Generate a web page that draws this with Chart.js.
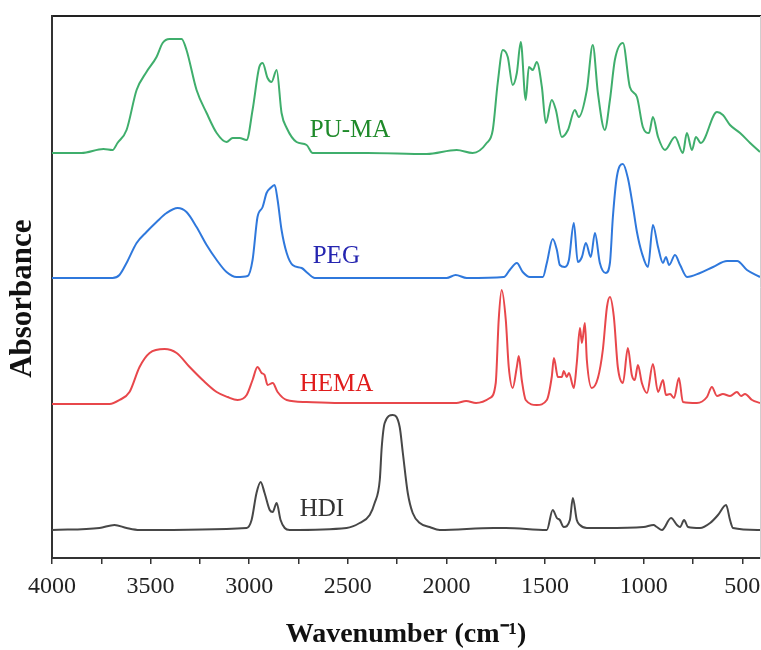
<!DOCTYPE html>
<html>
<head>
<meta charset="utf-8">
<title>FTIR spectra</title>
<script src="https://cdn.jsdelivr.net/npm/chart.js@4.4.1/dist/chart.umd.min.js"></script>
<style>
    body { margin: 0; background: #fff; }
    #wrap { width: 761px; height: 650px; position: relative; }
</style>
</head>
<body>
<div id="wrap"><canvas id="ftir"></canvas></div>
<script>
// Wavenumbers (cm-1) and stacked absorbance (arbitrary units, offset per sample)
const pumaWn = [4000, 3850, 3739, 3693, 3668, 3622, 3571, 3521, 3470, 3439, 3404, 3343, 3318, 3267, 3216, 3165, 3115, 3084, 3049, 3013, 2983, 2949, 2932, 2907, 2887, 2861, 2836, 2810, 2760, 2709, 2678, 2400, 2100, 1948, 1867, 1796, 1765, 1740, 1714, 1689, 1664, 1643, 1623, 1598, 1582, 1562, 1542, 1516, 1496, 1466, 1445, 1415, 1384, 1349, 1329, 1288, 1258, 1232, 1197, 1171, 1146, 1105, 1070, 1034, 1004, 973, 953, 927, 892, 841, 801, 781, 755, 735, 710, 628, 598, 562, 511, 460, 410];
const pumaAbs = [405, 405, 409, 408, 415, 428, 468, 486, 501, 515, 519, 519, 508, 468, 445, 425, 416, 420, 420, 418, 448, 491, 495, 480, 476, 488, 445, 430, 416, 413, 405, 405, 404, 408, 405, 415, 428, 475, 508, 501, 473, 485, 516, 458, 491, 488, 496, 471, 435, 458, 448, 421, 428, 448, 441, 468, 513, 465, 428, 458, 498, 515, 471, 461, 431, 425, 441, 421, 408, 421, 405, 425, 408, 421, 415, 446, 443, 433, 425, 415, 406];

const pegWn = [4000, 3693, 3658, 3622, 3571, 3521, 3470, 3419, 3363, 3318, 3267, 3216, 3165, 3115, 3064, 3008, 2983, 2958, 2932, 2912, 2892, 2871, 2856, 2836, 2810, 2780, 2734, 2704, 2668, 1999, 1953, 1897, 1709, 1679, 1643, 1613, 1577, 1511, 1491, 1461, 1440, 1425, 1400, 1379, 1354, 1334, 1313, 1293, 1268, 1247, 1222, 1192, 1171, 1156, 1136, 1105, 1080, 1054, 1034, 1009, 978, 953, 927, 902, 887, 871, 841, 815, 780, 714, 648, 577, 526, 476, 410];
const pegAbs = [280, 280, 283, 295, 315, 326, 336, 345, 350, 346, 331, 313, 298, 286, 281, 282, 298, 341, 351, 365, 370, 373, 358, 328, 305, 293, 290, 285, 280, 280, 283, 280, 281, 288, 295, 286, 281, 281, 295, 319, 308, 293, 291, 298, 335, 296, 301, 315, 301, 325, 295, 285, 295, 341, 381, 394, 380, 351, 326, 305, 291, 333, 311, 295, 301, 293, 303, 293, 281, 285, 291, 297, 297, 288, 281];

const hemaWn = [4000, 3708, 3658, 3607, 3556, 3505, 3429, 3368, 3302, 3236, 3165, 3110, 3059, 3013, 2983, 2958, 2937, 2922, 2907, 2881, 2856, 2810, 2709, 2541, 2200, 1950, 1900, 1850, 1780, 1750, 1735, 1720, 1699, 1684, 1664, 1643, 1633, 1618, 1598, 1542, 1491, 1466, 1455, 1435, 1415, 1405, 1390, 1379, 1354, 1339, 1323, 1313, 1298, 1288, 1263, 1232, 1207, 1186, 1171, 1151, 1131, 1105, 1080, 1060, 1045, 1029, 1009, 983, 953, 927, 902, 887, 866, 846, 821, 801, 730, 679, 654, 628, 598, 562, 527, 506, 486, 450, 410];
const hemaAbs = [154, 154, 158, 166, 191, 205, 209, 205, 191, 178, 166, 161, 158, 163, 178, 191, 185, 183, 173, 175, 166, 158, 156, 155, 155, 155, 157, 155, 160, 175, 238, 268, 238, 191, 170, 191, 202, 178, 158, 153, 158, 181, 200, 181, 181, 187, 181, 185, 170, 195, 230, 215, 235, 198, 170, 180, 208, 251, 261, 241, 191, 175, 210, 183, 178, 193, 175, 165, 194, 166, 178, 163, 164, 160, 180, 156, 155, 161, 171, 162, 164, 162, 166, 162, 164, 158, 155];

const hdiWn = [4000, 3759, 3683, 3622, 3556, 3013, 2988, 2963, 2942, 2922, 2896, 2881, 2861, 2841, 2820, 2795, 2506, 2440, 2389, 2364, 2338, 2328, 2313, 2272, 2237, 2221, 2196, 2171, 2135, 2085, 2034, 1760, 1700, 1491, 1461, 1440, 1425, 1405, 1374, 1359, 1339, 1323, 1288, 1200, 1000, 950, 933, 907, 861, 831, 815, 795, 775, 714, 663, 623, 582, 562, 547, 410];
const hdiAbs = [28, 30, 33, 30, 28, 30, 38, 65, 76, 65, 48, 46, 55, 38, 30, 28, 30, 35, 43, 55, 78, 111, 135, 143, 131, 105, 65, 45, 35, 31, 28, 30, 30, 28, 48, 40, 38, 31, 38, 60, 38, 33, 30, 30, 31, 33, 31, 28, 40, 33, 31, 38, 31, 30, 35, 43, 53, 38, 30, 28];

const seriesNames = ['PU-MA', 'PEG', 'HEMA', 'HDI'];
const xTickValues = [4000, 3750, 3500, 3250, 3000, 2750, 2500, 2250, 2000, 1750, 1500, 1250, 1000, 750, 500];
const xTickLabels = ['4000', '', '3500', '', '3000', '', '2500', '', '2000', '', '1500', '', '1000', '', '500'];

const lineColors = ['#3fae6c', '#2f78dc', '#e8474b', '#474747'];
const labelColors = ['#1f8a2a', '#2525b0', '#e01b1b', '#333333'];
const serif = "'Liberation Serif', 'Times New Roman', serif";

function toPoints(wn, abs) {
    const n = Math.min(wn.length, abs.length);
    const pts = [];
    for (let i = 0; i < n; i++) pts.push({ x: wn[i], y: abs[i] });
    return pts;
}

const spectra = [
    toPoints(pumaWn, pumaAbs),
    toPoints(pegWn, pegAbs),
    toPoints(hemaWn, hemaAbs),
    toPoints(hdiWn, hdiAbs)
];

// Sample names written next to each curve
const seriesLabels = {
    id: 'seriesLabels',
    afterDatasetsDraw(chart, args, opts) {
        const { ctx, scales: { x, y } } = chart;
        ctx.save();
        ctx.font = opts.font;
        ctx.textBaseline = 'middle';
        ctx.textAlign = 'left';
        opts.items.forEach((item, i) => {
            ctx.fillStyle = labelColors[i];
            ctx.fillText(seriesNames[i], x.getPixelForValue(item.x), y.getPixelForValue(item.y));
        });
        ctx.restore();
    }
};

new Chart(document.getElementById('ftir'), {
    type: 'line',
    data: {
        datasets: spectra.map((pts, i) => ({
            label: seriesNames[i],
            data: pts,
            borderColor: lineColors[i],
            borderWidth: 2,
            pointRadius: 0,
            fill: false,
            cubicInterpolationMode: 'monotone'
        }))
    },
    options: {
        responsive: true,
        maintainAspectRatio: false,
        animation: false,
        layout: { padding: 0 },
        scales: {
            x: {
                type: 'linear',
                position: 'bottom',
                reverse: true,
                min: 410,
                max: 4000,
                afterFit: (s) => {
                    s.height = 92;
                    s.paddingLeft = 0;
                    s.paddingRight = 0;
                },
                afterBuildTicks: (s) => { s.ticks = xTickValues.map(v => ({ value: v })); },
                ticks: {
                    autoSkip: false,
                    maxRotation: 0,
                    padding: 8,
                    color: '#222',
                    font: { family: serif, size: 24 },
                    callback: (v) => xTickLabels[xTickValues.indexOf(v)] ?? ''
                },
                grid: { drawOnChartArea: false, drawTicks: true, tickLength: 6, color: '#333', lineWidth: 1.5 },
                border: { display: true, color: '#333', width: 2 },
                title: {
                    display: true,
                    text: 'Wavenumber (cm\u207B\u00B9)',
                    color: '#111',
                    font: { family: serif, size: 28, weight: 'bold', lineHeight: 1 },
                    padding: { top: 0, bottom: 1 }
                }
            },
            xTop: {
                type: 'linear',
                position: 'top',
                display: true,
                afterFit: (s) => { s.height = 16; },
                ticks: { display: false },
                grid: { display: false },
                border: { display: true, color: '#222', width: 2 }
            },
            y: {
                type: 'linear',
                position: 'left',
                min: 0,
                max: 542,
                afterFit: (s) => { s.width = 52; },
                ticks: { display: false },
                grid: { display: false },
                border: { display: true, color: '#333', width: 2 },
                title: {
                    display: true,
                    text: 'Absorbance   ',
                    color: '#111',
                    font: { family: serif, size: 31, weight: 'bold', lineHeight: 1.2 },
                    padding: { top: 4, bottom: 0 }
                }
            },
            yRight: {
                type: 'linear',
                position: 'right',
                display: true,
                afterFit: (s) => { s.width = 1; },
                ticks: { display: false },
                grid: { display: false },
                border: { display: true, color: '#cfcfcf', width: 1 }
            }
        },
        plugins: {
            legend: { display: false },
            tooltip: { enabled: false },
            seriesLabels: {
                font: '25px ' + serif,
                items: [
                    { x: 2693, y: 428 },
                    { x: 2678, y: 302 },
                    { x: 2744, y: 174 },
                    { x: 2744, y: 49 }
                ]
            }
        }
    },
    plugins: [seriesLabels]
});
</script>
</body>
</html>
